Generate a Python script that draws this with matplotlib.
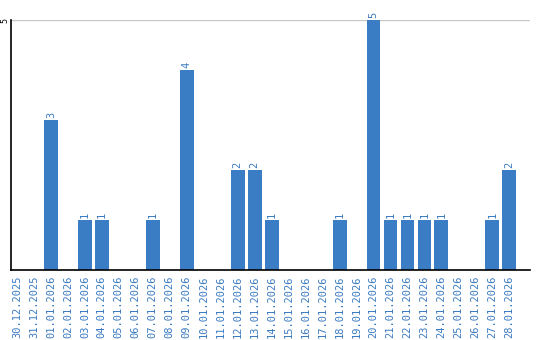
import matplotlib
matplotlib.use("Agg")
import matplotlib.pyplot as plt

dates = ["30.12.2025", "31.12.2025", "01.01.2026", "02.01.2026", "03.01.2026",
         "04.01.2026", "05.01.2026", "06.01.2026", "07.01.2026", "08.01.2026",
         "09.01.2026", "10.01.2026", "11.01.2026", "12.01.2026", "13.01.2026",
         "14.01.2026", "15.01.2026", "16.01.2026", "17.01.2026", "18.01.2026",
         "19.01.2026", "20.01.2026", "21.01.2026", "22.01.2026", "23.01.2026",
         "24.01.2026", "25.01.2026", "26.01.2026", "27.01.2026", "28.01.2026"]
counts = [0, 0, 3, 0, 1, 1, 0, 0, 1, 0,
          4, 0, 0, 2, 2, 1, 0, 0, 0, 1,
          0, 5, 1, 1, 1, 1, 0, 0, 1, 2]

bar_color = "#3b7dc4"
text_color = "#3a7ac0"

fig = plt.figure(figsize=(5.4, 3.4), dpi=100)
ax = fig.add_axes([0.0204, 0.206, 0.9606, 0.735])

x = list(range(len(dates)))
ax.bar(x, counts, width=0.82, color=bar_color, zorder=2)

for xi, v in zip(x, counts):
    if v > 0:
        ax.text(xi, v + 0.04, str(v), rotation=90, ha="center", va="bottom",
                fontsize=7.5, family="DejaVu Sans Mono", color=text_color,
                clip_on=False)

ax.set_xlim(-0.35, 30.2)
ax.set_ylim(0, 5)
ax.set_yticks([5])
ax.set_yticklabels(["5"], rotation=90, va="center", fontsize=6,
                   family="DejaVu Sans Mono")
ax.tick_params(axis="y", length=0, pad=1.5)
ax.set_xticks(x)
ax.set_xticklabels(dates, rotation=90, fontsize=7.5, family="DejaVu Sans Mono",
                   color=text_color)
ax.tick_params(axis="x", length=0, pad=4)

ax.grid(axis="y", color="#c8c8c8", linewidth=1, zorder=0)
for s in ["top", "right"]:
    ax.spines[s].set_visible(False)
for s in ["left", "bottom"]:
    ax.spines[s].set_color("black")
    ax.spines[s].set_linewidth(1.2)
    ax.spines[s].set_zorder(3)

fig.savefig("out.png", dpi=100)
